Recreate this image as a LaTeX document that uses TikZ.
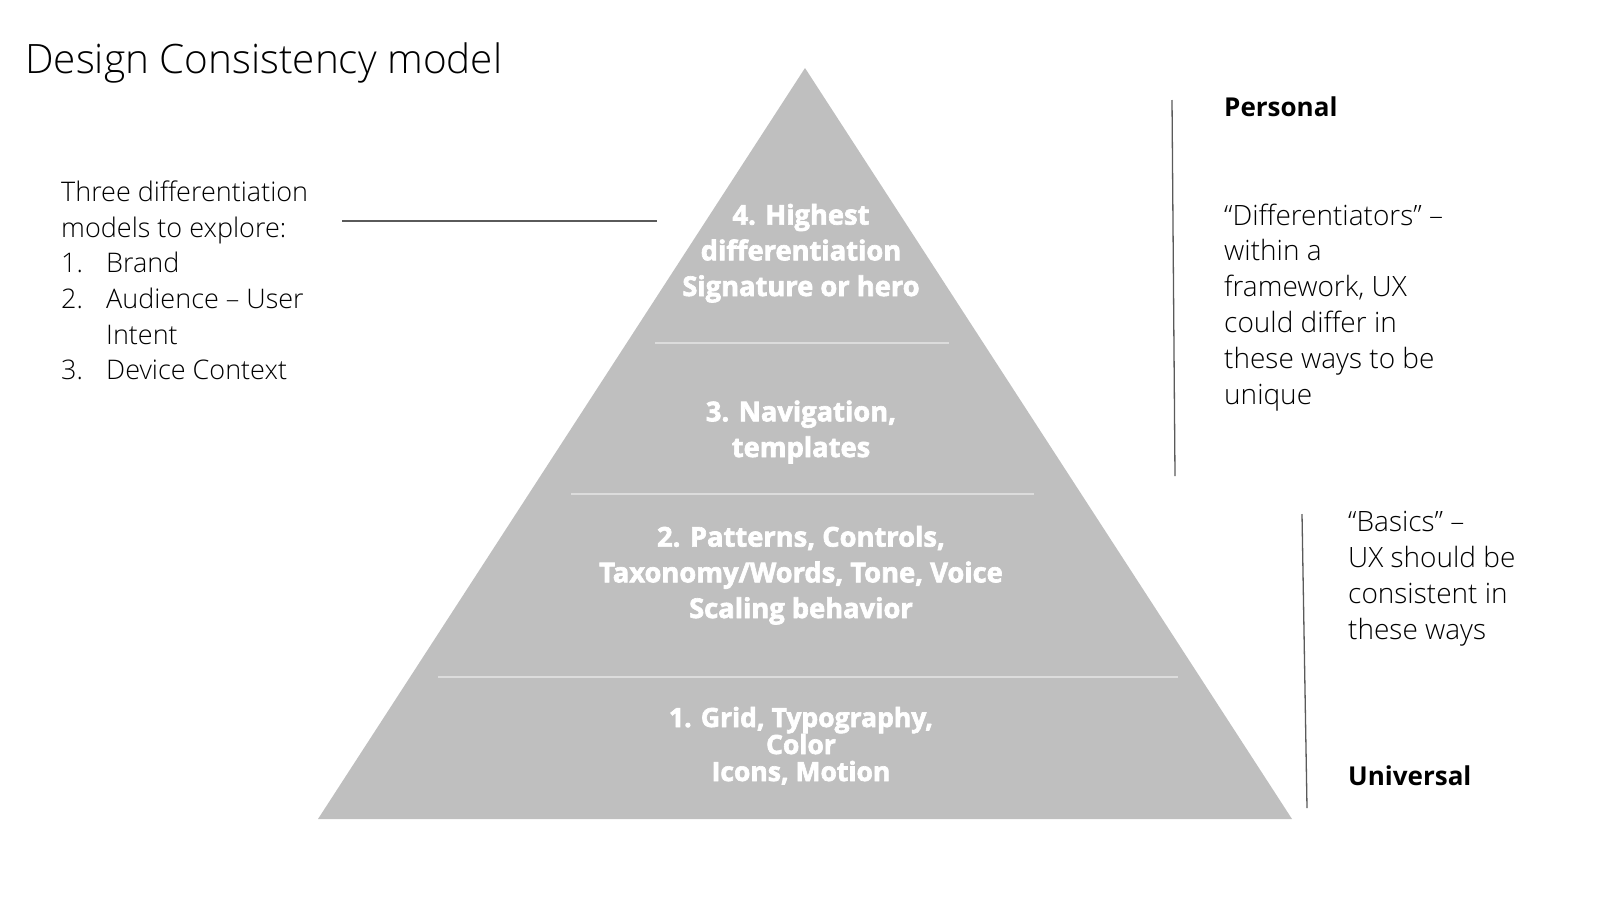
\documentclass[tikz,border=0pt]{standalone}
\usepackage{fontspec}
\IfFontExistsTF{Open Sans Light}{\newfontfamily\fLight{Open Sans Light}}{\IfFontExistsTF{Lato Light}{\newfontfamily\fLight{Lato Light}}{\newfontfamily\fLight{Open Sans}}}
\newfontfamily\fBlack{Open Sans Bold}[FakeBold=2.4]
\newfontfamily\fBold{Open Sans Bold}
\definecolor{pyr}{RGB}{191,191,191}
\definecolor{divc}{RGB}{220,220,220}
\definecolor{linec}{RGB}{90,90,90}
\tikzset{
  tri/.style={font=\fBlack\fontsize{27.3}{35.7}\selectfont, text=white, align=center, inner sep=0pt, anchor=base},
  trismall/.style={tri, font=\fBlack\fontsize{26.5}{27}\selectfont},
  thin/.style={font=\fLight\fontsize{27}{35.7}\selectfont, text=black, align=left, inner sep=0pt, anchor=base west},
  semi/.style={font=\fLight\fontsize{28}{35.8}\selectfont, text=black, align=left, inner sep=0pt, anchor=base west},
  bolde/.style={font=\fBold\fontsize{26}{32}\selectfont, text=black, inner sep=0pt, anchor=base west},
  divider/.style={draw=divc, line width=1.6pt},
  guide/.style={draw=linec, line width=1.3pt}
}
\begin{document}
\begin{tikzpicture}[x=1pt,y=-1pt]
\useasboundingbox (0,0) rectangle (1600,900);
% pyramid
\coordinate (apex) at (805,68);
\coordinate (bl) at (318,819);
\coordinate (br) at (1292,819);
\fill[pyr] (apex) -- (br) -- (bl) -- cycle;
% dividers
\coordinate (d1a) at (655,343); \coordinate (d1b) at (949,343);
\coordinate (d2a) at (571,494); \coordinate (d2b) at (1034,494);
\coordinate (d3a) at (438,677); \coordinate (d3b) at (1178,677);
\draw[divider] (d1a) -- (d1b);
\draw[divider] (d2a) -- (d2b);
\draw[divider] (d3a) -- (d3b);
% title
\node[font=\fLight\fontsize{40.5}{48}\selectfont, inner sep=0pt, anchor=base west] (title) at (25,73) {Design Consistency model};
% pyramid texts (anchor = baseline of last line)
\node[tri] (t4) at (801,296) {4. Highest\\differentiation\\Signature or hero};
\node[tri] (t3) at (801,457) {3. Navigation,\\templates};
\node[tri] (t2) at (801,618) {2. Patterns, Controls,\\Taxonomy/Words, Tone, Voice\\Scaling behavior};
\node[trismall] (t1) at (801,781) {1. Grid, Typography,\\Color\\Icons, Motion};
% left text
\node[thin] (lt) at (61,237) {Three differentiation\\models to explore:};
\node[thin] (n1) at (61,272) {1.};
\node[thin] (n2) at (61,308) {2.};
\node[thin] (n3) at (61,379) {3.};
\node[thin] (i1) at (106,272) {Brand};
\node[thin] (i2) at (106,344) {Audience – User\\Intent};
\node[thin] (i3) at (106,379) {Device Context};
% left connector line
\coordinate (la) at (342,221);
\coordinate (lb) at (657,221);
\draw[guide] (la) -- (lb);
% right vertical lines
\coordinate (v1a) at (1172,100); \coordinate (v1b) at (1175,476);
\coordinate (v2a) at (1302,514); \coordinate (v2b) at (1307,808);
\draw[guide] (v1a) -- (v1b);
\draw[guide] (v2a) -- (v2b);
% right texts
\node[bolde] (personal) at (1224,116) {Personal};
\node[semi] (diff) at (1224,404) {“Differentiators” –\\within a\\framework, UX\\could differ in\\these ways to be\\unique};
\node[semi] (basics) at (1348,639) {“Basics” –\\UX should be\\consistent in\\these ways};
\node[bolde] (universal) at (1348,785) {Universal};
\end{tikzpicture}
\end{document}
